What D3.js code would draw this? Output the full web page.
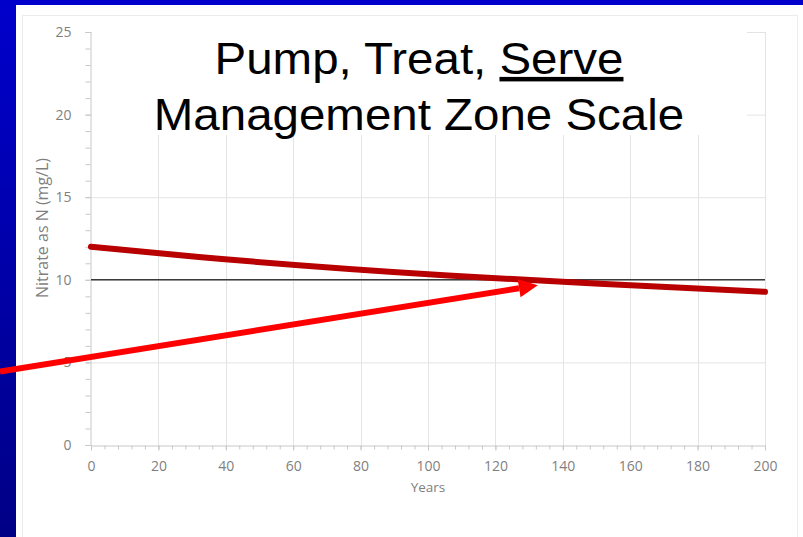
<!DOCTYPE html>
<html><head><meta charset="utf-8">
<script src="https://cdn.jsdelivr.net/npm/d3@7"></script>
<style>html,body{margin:0;padding:0;background:#fff;}svg{display:block;}</style>
</head><body>
<script>
// ---- data ----
const years = [0, 32, 106, 151, 200];
const nitrate = [12.0, 11.38, 10.26, 9.76, 9.27];
const standardYears = [0, 200];
const standard = [10, 10];
const xTicks = [0, 20, 40, 60, 80, 100, 120, 140, 160, 180, 200];
const yTicks = [0, 5, 10, 15, 20, 25];
const titleLine1 = ["Pump, Treat, ", "Serve"];
const titleLine2 = "Management Zone Scale";
const xLabel = "Years";
const yLabel = "Nitrate as N (mg/L)";
const arrowFrom = [-27, 4.45];
const arrowTo = [132.6, 9.67];

const W = 803, H = 537;
const svg = d3.select("body").append("svg").attr("width", W).attr("height", H);
const defs = svg.append("defs");
const g = defs.append("linearGradient").attr("id", "bg").attr("x1", 0).attr("y1", 0).attr("x2", 0).attr("y2", 1);
g.append("stop").attr("offset", 0).attr("stop-color", "#0000cc");
g.append("stop").attr("offset", 1).attr("stop-color", "#000086");

svg.append("rect").attr("width", W).attr("height", H).attr("fill", "url(#bg)");
svg.append("rect").attr("x", 16).attr("y", 5).attr("width", W - 16).attr("height", H - 5).attr("fill", "#fff");
svg.append("rect").attr("x", 22.5).attr("y", 15.5).attr("width", 775).attr("height", 540)
  .attr("fill", "none").attr("stroke", "#ececec");

const x = d3.scaleLinear().domain([0, 200]).range([91, 765]);
const y = d3.scaleLinear().domain([0, 25]).range([445, 32]);

// gridlines
const grid = svg.append("g");
grid.selectAll("line.h").data(yTicks.filter(d => d > 0)).join("line")
  .attr("x1", x(0)).attr("x2", x(200)).attr("y1", d => y(d) + 0.5).attr("y2", d => y(d) + 0.5)
  .attr("stroke", "#e4e4e4");
grid.selectAll("line.v").data(xTicks.filter(d => d > 0)).join("line")
  .attr("y1", y(0)).attr("y2", y(25)).attr("x1", d => Math.round(x(d)) + 0.5).attr("x2", d => Math.round(x(d)) + 0.5)
  .attr("stroke", "#e4e4e4");

// axes
const xMinor = d3.range(0, 201, 4);
const yMinor = d3.range(0, 26, 1);
const xAxis = svg.append("g").attr("transform", `translate(0,${y(0) + 0.5})`)
  .call(d3.axisBottom(x).tickValues(xMinor).tickSize(4).tickFormat(""));
xAxis.selectAll("line,path").attr("stroke", "#c8c8c8");
const xAxisMajor = svg.append("g").attr("transform", `translate(0,${y(0) + 0.5})`)
  .call(d3.axisBottom(x).tickValues(xTicks).tickSize(5).tickPadding(11).tickFormat(d3.format("d")));
xAxisMajor.select("path").remove();
xAxisMajor.selectAll("line").attr("stroke", "#c8c8c8");
xAxisMajor.selectAll("text").attr("fill", "#7f7f7f").attr("font-family", "Open Sans").attr("font-size", 14);

const yAxis = svg.append("g").attr("transform", `translate(${x(0) - 0.5},0)`)
  .call(d3.axisLeft(y).tickValues(yMinor).tickSize(5).tickFormat(""));
yAxis.selectAll("line,path").attr("stroke", "#c8c8c8");
const yAxisMajor = svg.append("g").attr("transform", `translate(${x(0) - 0.5},0)`)
  .call(d3.axisLeft(y).tickValues(yTicks).tickSize(5).tickPadding(14).tickFormat(d3.format("d")));
yAxisMajor.select("path").remove();
yAxisMajor.selectAll("line").attr("stroke", "#c8c8c8");
yAxisMajor.selectAll("text").attr("fill", "#7f7f7f").attr("font-family", "Open Sans").attr("font-size", 14);

// axis titles
svg.append("text").attr("x", (x(0) + x(200)) / 2).attr("y", 492).attr("text-anchor", "middle")
  .attr("font-family", "Open Sans").attr("font-size", 13.5).attr("fill", "#7f7f7f").text(xLabel);
svg.append("text").attr("transform", `translate(48,228) rotate(-90)`).attr("text-anchor", "middle")
  .attr("font-family", "Open Sans").attr("font-size", 16).attr("fill", "#7f7f7f").text(yLabel);

// lines
const line = d3.line().x(d => x(d[0])).y(d => y(d[1]));
svg.append("path").datum(standardYears.map((v, i) => [v, standard[i]])).attr("d", line)
  .attr("fill", "none").attr("stroke", "#3a3a3a").attr("stroke-width", 1.6);
svg.append("path").datum(years.map((v, i) => [v, nitrate[i]])).attr("d", line.curve(d3.curveMonotoneX))
  .attr("fill", "none").attr("stroke", "#b80000").attr("stroke-width", 6).attr("stroke-linecap", "round");

// title box
svg.append("rect").attr("x", 92).attr("y", 16).attr("width", 747 - 92).attr("height", 135 - 16).attr("fill", "#fff");
const cx = 419;
const tg = svg.append("g").attr("transform", `translate(${cx},0) scale(1.055,1)`);
const t1 = tg.append("text").attr("x", 0).attr("y", 74).attr("text-anchor", "middle")
  .attr("font-family", "Liberation Sans, Arial, sans-serif").attr("font-size", 45).attr("fill", "#000");
t1.append("tspan").text(titleLine1[0]);
t1.append("tspan").attr("text-decoration", "underline").text(titleLine1[1]);
tg.append("text").attr("x", 0).attr("y", 130).attr("text-anchor", "middle")
  .attr("font-family", "Liberation Sans, Arial, sans-serif").attr("font-size", 45).attr("fill", "#000").text(titleLine2);

// arrow
const x0 = x(arrowFrom[0]), y0 = y(arrowFrom[1]), x1 = x(arrowTo[0]), y1 = y(arrowTo[1]);
const ang = Math.atan2(y1 - y0, x1 - x0);
const headL = 19, headW = 9;
const bx = x1 - headL * Math.cos(ang), by = y1 - headL * Math.sin(ang);
svg.append("line").attr("x1", x0).attr("y1", y0).attr("x2", bx).attr("y2", by)
  .attr("stroke", "#ff0000").attr("stroke-width", 6);
const px = -Math.sin(ang), py = Math.cos(ang);
svg.append("polygon").attr("points", [[x1, y1], [bx + px * headW, by + py * headW], [bx - px * headW, by - py * headW]].map(p => p.join(",")).join(" "))
  .attr("fill", "#ff0000");
</script>
</body></html>
